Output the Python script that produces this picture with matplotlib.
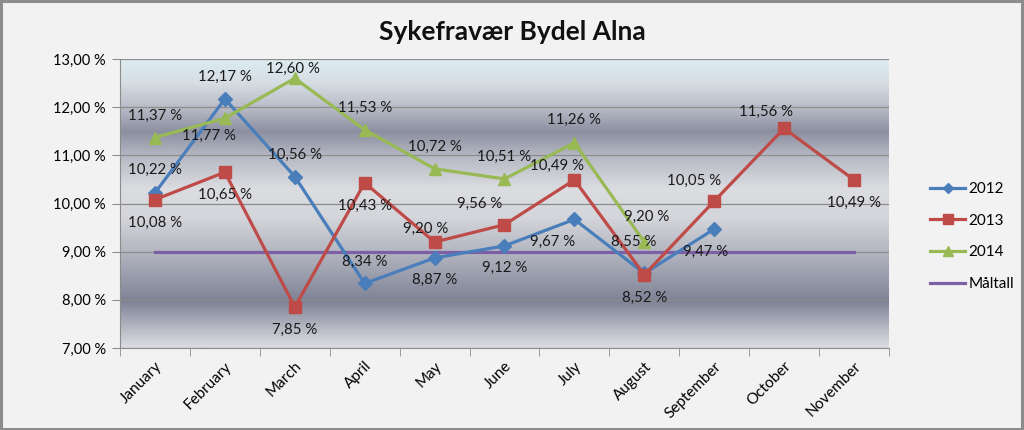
import matplotlib
matplotlib.use("Agg")
import matplotlib.pyplot as plt
import numpy as np
from matplotlib.colors import LinearSegmentedColormap
from matplotlib.patches import Rectangle

plt.rcParams['font.family'] = ['Lato', 'DejaVu Sans']

months = ["January", "February", "March", "April", "May", "June", "July",
          "August", "September", "October", "November"]
y2012 = [10.22, 12.17, 10.56, 8.34, 8.87, 9.12, 9.67, 8.55, 9.47]
y2013 = [10.08, 10.65, 7.85, 10.43, 9.20, 9.56, 10.49, 8.52, 10.05, 11.56, 10.49]
y2014 = [11.37, 11.77, 12.60, 11.53, 10.72, 10.51, 11.26, 9.20]
maltall = [9.00] * 11
yticks = [7, 8, 9, 10, 11, 12, 13]

# label offsets in pixels (dx, dy) relative to each point
off2012 = [(0, 23), (0, 22), (0, 22), (0, 22), (0, -22), (0, -22), (-22, -22), (-11, 31), (-9, -23)]
off2013 = [(0, -23), (0, -23), (0, -23), (0, -23), (-9, 13), (-25, 21), (-17, 14), (0, -23), (-20, 20), (-18, 16), (0, -23)]
off2014 = [(0, 22), (-16, -18), (-2, 9), (0, 22), (0, 22), (0, 22), (0, 23), (2, 25)]

fig = plt.figure(figsize=(10.24, 4.30), dpi=100)
fig.patch.set_facecolor('#f2f2f2')
fig.patches.append(Rectangle((0.001, 0.002), 0.997, 0.995, transform=fig.transFigure,
                             fill=False, edgecolor='#8c8c8c', linewidth=2.2))

ax = fig.add_axes([120/1024, 82/430, 769/1024, 289/430])

stops = [(0.0, '#dcecf2'), (0.08, '#d6dde3'), (0.17, '#b7bac5'), (0.25, '#8b8fa0'),
         (0.33, '#b4b7c2'), (0.45, '#dcdde1'), (0.55, '#d4d5da'), (0.68, '#b0b3be'),
         (0.84, '#7e8295'), (0.93, '#b5b7c2'), (1.0, '#dcdde0')]
cmap = LinearSegmentedColormap.from_list('bg', stops)
grad = np.linspace(0, 1, 400).reshape(-1, 1)
ax.imshow(grad, cmap=cmap, aspect='auto', extent=[-0.5, 10.5, 7, 13],
          origin='upper', zorder=0)

ax.set_xlim(-0.5, 10.5)
ax.set_ylim(7, 13)
ax.set_yticks(yticks)
ax.set_yticklabels([f"{v:.2f}".replace('.', ',') + " %" for v in yticks], fontsize=10.5)
ax.yaxis.grid(True, color='#8c8c8c', linewidth=0.9, zorder=1)
ax.set_axisbelow(False)

x = np.arange(len(months))
ax.set_xticks(x)
ax.set_xticklabels(months, rotation=45, ha='right', rotation_mode='anchor', fontsize=11)
ax.tick_params(axis='x', which='major', length=0, pad=8)
ax.set_xticks(np.arange(-0.5, 11, 1), minor=True)
ax.tick_params(axis='x', which='minor', length=6, color='#8c8c8c', direction='out')
ax.tick_params(axis='y', length=6, color='#8c8c8c', direction='out', pad=4)

for s in ['top', 'right']:
    ax.spines[s].set_visible(False)
for s in ['left', 'bottom']:
    ax.spines[s].set_color('#8c8c8c')

c12, c13, c14, cm = '#4a7ebb', '#be4b48', '#98b954', '#7d5fa6'

ax.plot(x, maltall, color=cm, lw=2.3, zorder=3, label='Måltall')
ax.plot(x[:len(y2012)], y2012, color=c12, lw=2.3, marker='D', ms=7, zorder=4, label='2012')
ax.plot(x[:len(y2013)], y2013, color=c13, lw=2.3, marker='s', ms=9, zorder=4, label='2013')
ax.plot(x[:len(y2014)], y2014, color=c14, lw=2.3, marker='^', ms=9, zorder=4, label='2014')

def fmt(v):
    return f"{v:.2f}".replace('.', ',') + " %"

for vals, offs in [(y2012, off2012), (y2013, off2013), (y2014, off2014)]:
    for i, (v, o) in enumerate(zip(vals, offs)):
        ax.annotate(fmt(v), (x[i], v), xytext=o, textcoords='offset pixels',
                    ha='center', va='center', fontsize=10.8, color='#1a1a1a', zorder=6)

handles, labels = ax.get_legend_handles_labels()
order = [1, 2, 3, 0]
leg = fig.legend([handles[i] for i in order], [labels[i] for i in order],
                 loc='center left', bbox_to_anchor=(0.895, 0.45), frameon=False,
                 fontsize=11, handlelength=2.3, labelspacing=1.15, handletextpad=0.2,
                 markerscale=0.8)

fig.text(0.5, 0.925, "Sykefravær Bydel Alna", ha='center', va='center',
         fontsize=19, fontweight='bold', color='#111111')

fig.savefig('out.png', dpi=100, facecolor=fig.get_facecolor())
